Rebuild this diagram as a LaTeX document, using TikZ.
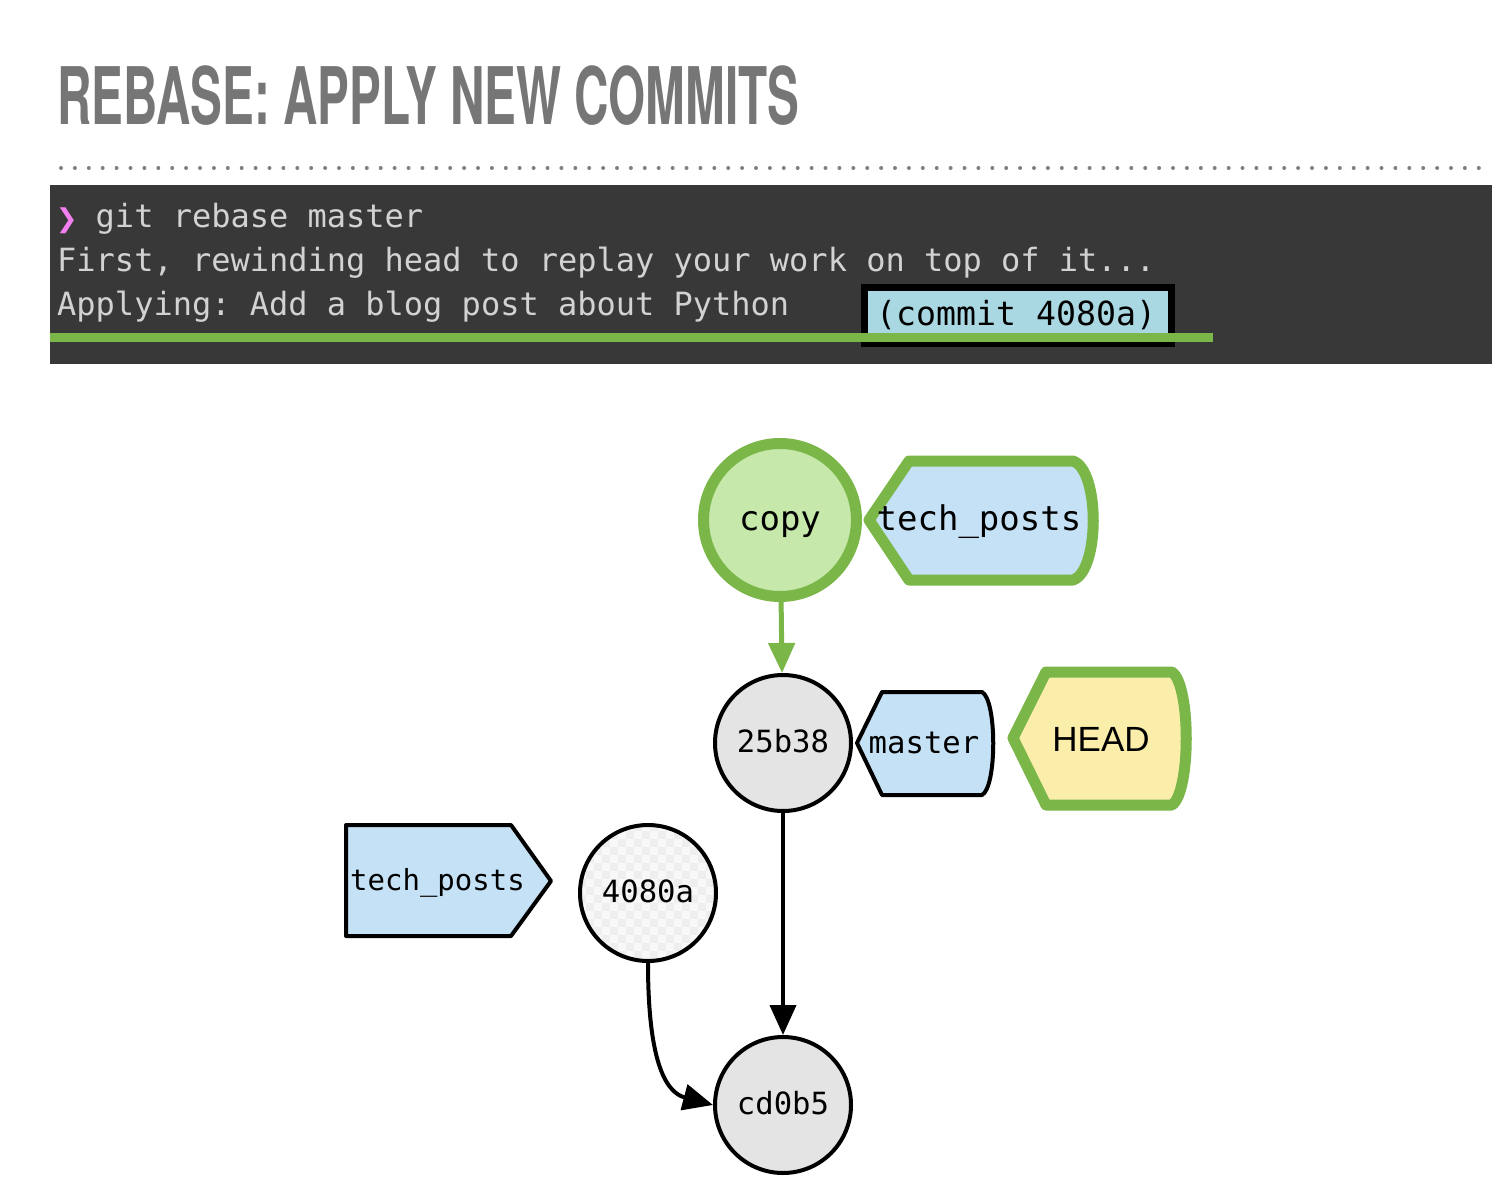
\documentclass[tikz,border=0pt]{standalone}
\usepackage{fontspec}
\usepackage{xcolor}
\usetikzlibrary{positioning,arrows.meta,calc}
\setmainfont{Liberation Sans}
\newfontfamily\titlefont[FakeStretch=0.6]{TeX Gyre Heros}
\newfontfamily\monofont{DejaVu Sans Mono}
\newfontfamily\symfont{DejaVu Sans}
\definecolor{titlegray}{HTML}{767676}
\definecolor{termbg}{HTML}{383838}
\definecolor{termtext}{HTML}{D2D2D2}
\definecolor{promptpink}{HTML}{F37FF0}
\definecolor{gitgreen}{HTML}{7AB648}
\definecolor{copyfill}{HTML}{C6E8AA}
\definecolor{branchblue}{HTML}{C5E1F5}
\definecolor{headyellow}{HTML}{FAEEAA}
\definecolor{commitgray}{HTML}{E4E4E4}
\definecolor{checklight}{HTML}{F8F8F8}
\definecolor{checkdark}{HTML}{EEEEEE}
\definecolor{hashblue}{HTML}{A9D8E2}
\tikzset{
  termline/.style={anchor=base west, inner sep=0, text=termtext,
    font=\monofont\fontsize{32}{38}\selectfont},
  commit/.style={circle, draw=black, line width=4, fill=commitgray,
    minimum size=136, inner sep=0, text height=24.5pt, text depth=6.1pt,
    font=\monofont\fontsize{30.6}{36}\selectfont},
  newcommit/.style={commit, draw=gitgreen, line width=11, fill=copyfill,
    minimum size=153, text height=27.2pt, text depth=6.8pt,
    font=\monofont\fontsize{34}{40}\selectfont},
  reflabel/.style={anchor=base, inner sep=0, font=\monofont\fontsize{30.6}{36}\selectfont},
  branchline/.style={draw=black, line width=4, fill=branchblue, line join=round},
  movedline/.style={draw=gitgreen, line width=11, line join=round},
  parent/.style={line width=4, -{Triangle[length=30,width=26]}}
}
\begin{document}
\frenchspacing
\begin{tikzpicture}[x=1pt,y=-1pt]
\useasboundingbox (0,0) rectangle (1492,1188);
\node[anchor=base west, inner sep=0, text=titlegray,
  font=\titlefont\bfseries\fontsize{79.4}{80}\selectfont] (title) at (57,125) {REBASE: APPLY NEW COMMITS};
\draw[draw=black!50, line width=4, line cap=round, dash pattern=on 0pt off 13.9pt] (61,168) -- (1492,168);

\fill[termbg] (50,185) rectangle (1492,364);
\node[termline] (cmd) at (57,227) {\makebox[19.26pt][c]{\symfont\color{promptpink}\fontsize{26}{30}\selectfont ❯} git rebase master};
\node[termline] (rewind) at (57,271) {First, rewinding head to replay your work on top of it...};
\node[termline] (apply) at (57,315) {Applying: Add a blog post about Python};
\draw[black, line width=7, fill=hashblue] (864,287) rectangle (1171,343);
\node[anchor=base west, inner sep=0, font=\monofont\fontsize{33.2}{38}\selectfont] (hash) at (876,325) {(commit 4080a)};
\fill[gitgreen] (50,333) rectangle (1213,342);

\begin{scope}
  \clip (648,893) circle (68);
  \fill[checklight] (578,823) rectangle (718,963);
  \foreach \i in {0,...,17}{
    \foreach \j in {0,...,17}{
      \ifodd\numexpr\i+\j\relax
        \fill[checkdark] (578+8*\i,823+8*\j) rectangle ++(8,8);
      \fi
    }
  }
\end{scope}
\node[newcommit] (copy) at (780,520) {copy};
\node[commit] (c25b38) at (783,743) {25b38};
\node[commit, fill=none] (c4080a) at (648,893) {4080a};
\node[commit] (cd0b5) at (783,1105) {cd0b5};

\draw[movedline, fill=branchblue] (869,520) -- (909,461) -- (1073,461) .. controls (1100,470) and (1100,571) .. (1073,580) -- (909,580) -- cycle;
\node[reflabel, font=\monofont\fontsize{34}{40}\selectfont] (newtech) at (979,530) {tech\_posts};
\draw[branchline] (857,743) -- (882,692) -- (982,692) .. controls (997,700) and (997,787) .. (982,795) -- (882,795) -- cycle;
\node[reflabel] (master) at (924,753) {master};
\draw[movedline, fill=headyellow] (1013,738) -- (1046,672) -- (1172,672) .. controls (1191,685) and (1191,792) .. (1172,805) -- (1046,805) -- cycle;
\node[anchor=base, inner sep=0, font=\fontsize{35}{40}\selectfont] (head) at (1101,751) {HEAD};
\draw[branchline] (346,825) -- (511,825) -- (551,881) -- (511,936) -- (346,936) -- cycle;
\node[reflabel, font=\monofont\fontsize{29}{34}\selectfont] (oldtech) at (437.5,890) {tech\_posts};

\draw[parent, gitgreen, line width=5] (copy) -- (c25b38);
\draw[parent] (c25b38) -- (cd0b5);
\draw[parent] (c4080a.south) .. controls +(0,105) and +(-45,-12) .. (cd0b5.west);
\end{tikzpicture}
\end{document}
